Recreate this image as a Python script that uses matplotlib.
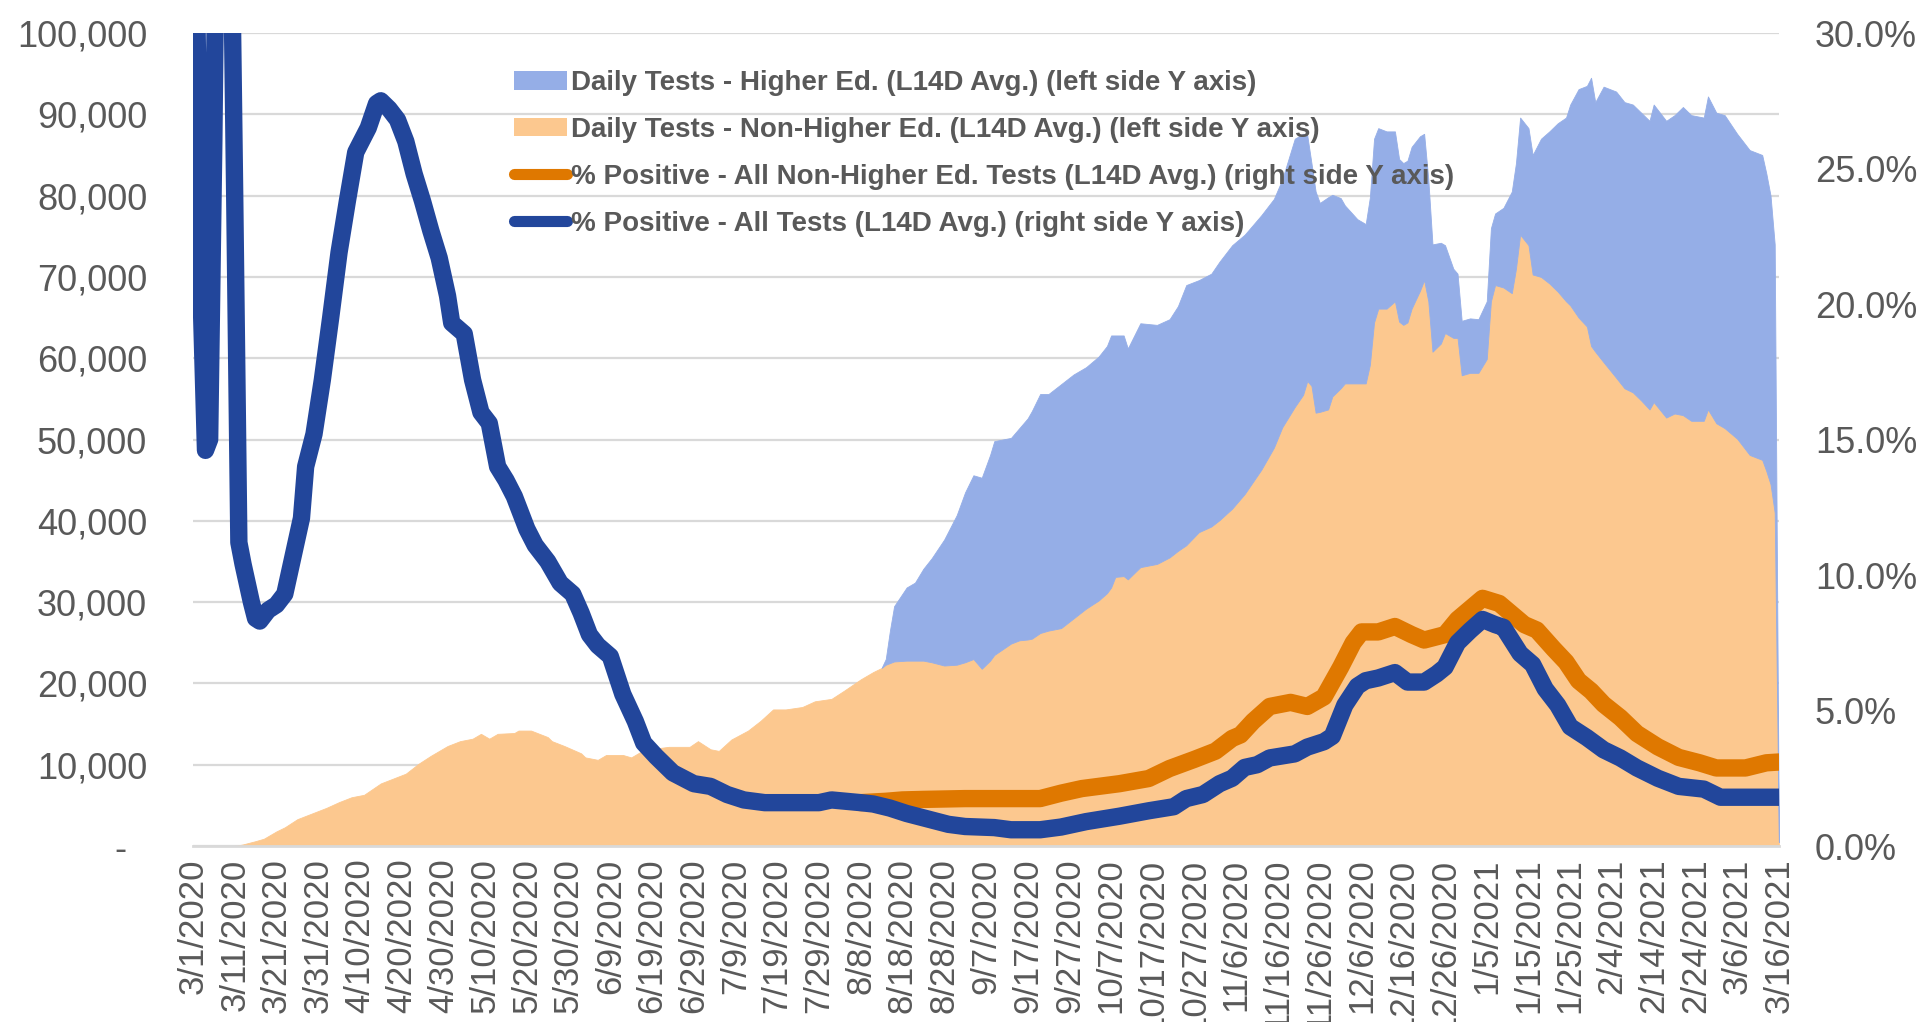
import matplotlib
matplotlib.use("Agg")
import matplotlib.pyplot as plt
import numpy as np
from matplotlib.ticker import FuncFormatter
from matplotlib.lines import Line2D
from matplotlib.patches import Patch
from matplotlib.font_manager import FontProperties

# x = days since 3/1/2020 (category axis ends on 3/16/2021 = day 380)
tick_days = list(range(0, 381, 10))
tick_labels = [
    "3/1/2020", "3/11/2020", "3/21/2020", "3/31/2020", "4/10/2020", "4/20/2020",
    "4/30/2020", "5/10/2020", "5/20/2020", "5/30/2020", "6/9/2020", "6/19/2020",
    "6/29/2020", "7/9/2020", "7/19/2020", "7/29/2020", "8/8/2020", "8/18/2020",
    "8/28/2020", "9/7/2020", "9/17/2020", "9/27/2020", "10/7/2020", "10/17/2020",
    "10/27/2020", "11/6/2020", "11/16/2020", "11/26/2020", "12/6/2020", "12/16/2020",
    "12/26/2020", "1/5/2021", "1/15/2021", "1/25/2021", "2/4/2021", "2/14/2021",
    "2/24/2021", "3/6/2021", "3/16/2021",
]

# daily tests, L14D avg, in thousands
area_days = [
    0, 10, 12, 15, 17, 20, 22, 25, 29, 32, 35, 38, 41, 45, 48, 51, 54, 57, 61, 64,
    67, 69, 71, 73, 77, 78, 81, 83, 85, 86, 89, 93, 94, 97, 99, 103, 105, 108, 114, 119,
    121, 124, 126, 129, 133, 136, 139, 142, 146, 149, 153, 156, 160, 163, 165,
    166, 167, 168, 171, 173, 175, 177, 180, 183, 185, 187, 189, 191, 192, 196,
    198, 200, 201, 203, 205, 208, 211, 214, 217, 219, 220, 221, 223, 224, 227,
    231, 234, 236, 238, 241, 244, 246, 249, 252, 256, 259, 261, 264, 266, 267,
    268, 269, 270, 272, 273, 275, 276, 279, 281, 282, 283, 284, 286, 288, 289,
    290, 291, 292, 294, 295, 296, 297, 299, 300, 302, 303, 304, 306, 308, 310,
    311, 312, 314, 316, 317, 318, 320, 321, 323, 325, 327, 329, 330, 332, 334,
    335, 336, 338, 341, 343, 345, 347, 349, 350, 353, 355, 357, 359, 362, 363,
    365, 367, 370, 373, 376, 377, 378, 379, 380,
]
tests_non_higher_ed = [
    0, 0, 0.2, 0.6, 0.9, 1.8, 2.3, 3.3, 4.1, 4.7, 5.4, 6.0, 6.3, 7.7, 8.3, 8.9, 10.1, 11.1, 12.3, 12.9,
    13.2, 13.8, 13.2, 13.8, 13.9, 14.2, 14.2, 13.8, 13.4, 12.9, 12.3, 11.4, 10.9, 10.6, 11.2, 11.2, 10.9, 11.8, 12.2, 12.2,
    12.9, 11.9, 11.7, 13.1, 14.2, 15.4, 16.8, 16.8, 17.1, 17.8, 18.1, 19.1, 20.5, 21.4, 21.9,
    22.3, 22.5, 22.7, 22.8, 22.8, 22.8, 22.6, 22.2, 22.3, 22.6, 23.0, 21.8, 22.8, 23.5, 24.9,
    25.3, 25.4, 25.5, 26.2, 26.5, 26.8, 28.0, 29.2, 30.2, 31.1, 31.8, 33.1, 33.2, 32.8, 34.3,
    34.7, 35.5, 36.3, 37.0, 38.6, 39.3, 40.1, 41.5, 43.3, 46.3, 49.0, 51.5, 54.0, 55.5, 57.2,
    56.6, 53.3, 53.4, 53.7, 55.3, 56.3, 56.9, 56.9, 56.9, 59.2, 64.4, 66.1, 66.1, 67.0, 64.5,
    64.1, 64.4, 66.1, 68.3, 69.6, 67.0, 60.8, 61.8, 63.1, 62.5, 62.5, 57.9, 58.2, 58.2, 59.9,
    67.0, 69.0, 68.7, 68.0, 71.0, 75.2, 73.9, 70.3, 70.0, 69.2, 68.2, 67.0, 66.5, 65.0, 63.9,
    61.5, 60.8, 59.5, 57.6, 56.3, 55.8, 54.8, 53.7, 54.6, 52.7, 53.2, 53.0, 52.3, 52.3, 53.7,
    52.0, 51.4, 50.1, 48.1, 47.5, 46.1, 44.5, 41.0, 0.5,
]
tests_higher_ed = [
    0, 0, 0, 0, 0, 0, 0, 0, 0, 0, 0, 0, 0, 0, 0, 0, 0, 0, 0, 0,
    0, 0, 0, 0, 0, 0, 0, 0, 0, 0, 0, 0, 0, 0, 0, 0, 0, 0, 0, 0,
    0, 0, 0, 0, 0, 0, 0, 0, 0, 0, 0, 0, 0, 0, 0,
    0.7, 4.0, 6.8, 9.0, 9.6, 11.3, 12.8, 15.5, 18.4, 20.9, 22.6, 23.5, 25.3, 26.3, 25.3,
    26.1, 27.2, 28.0, 29.4, 29.1, 30.0, 30.0, 29.7, 30.0, 30.4, 31.0, 29.7, 29.6, 28.4, 30.0,
    29.4, 29.3, 30.1, 32.0, 31.0, 31.1, 31.8, 32.4, 31.9, 31.3, 30.6, 30.5, 33.0, 32.1, 30.2,
    27.4, 27.2, 25.7, 26.1, 24.8, 23.4, 21.9, 20.2, 19.6, 20.6, 22.6, 22.2, 21.8, 20.9, 20.0,
    19.9, 19.9, 19.9, 19.0, 18.0, 15.0, 13.2, 12.4, 10.8, 8.5, 7.9, 6.7, 6.7, 6.6, 7.1,
    9.0, 8.8, 9.8, 12.5, 13.0, 14.4, 14.4, 14.7, 17.0, 18.7, 20.7, 22.6, 24.7, 28.1, 29.6,
    33.0, 30.7, 33.9, 35.2, 35.2, 35.4, 35.4, 35.5, 36.6, 36.5, 36.7, 37.9, 37.6, 37.3, 38.5,
    38.2, 38.5, 37.5, 37.5, 37.5, 36.6, 35.5, 33.0, 0.3,
]

# % positive, all tests (L14D avg)
pos_all_days = [
    0, 1, 2, 3, 4, 5, 6, 7, 8, 9, 10, 11, 12, 14, 15, 16, 18, 20, 22, 24,
    26, 27, 29, 31, 33, 35, 37, 39, 41, 42, 44, 45, 47, 49, 51, 53, 55, 57, 59, 61,
    62, 65, 67, 69, 71, 73, 75, 77, 80, 82, 85, 88, 91, 93, 95, 97, 100, 103, 106, 108,
    111, 115, 120, 124, 128, 132, 137, 150, 153, 160, 163, 167, 171, 176, 181, 185, 192, 196, 203, 208,
    214, 222, 229, 235, 238, 242, 246, 249, 252, 255, 258, 264, 267, 271, 273, 276, 279, 281, 284, 288,
    291, 295, 298, 300, 303, 306, 309, 312, 314, 318, 321, 324, 327, 330, 334, 338, 342, 346, 351, 356,
    362, 366, 380,
]
pos_all = [
    45, 30, 20, 14.6, 15.0, 26, 40, 48, 45, 36, 24, 11.2, 10.4, 9.0, 8.4, 8.3, 8.7, 8.9, 9.3, 10.7,
    12.1, 14.0, 15.2, 17.2, 19.5, 21.9, 23.8, 25.6, 26.2, 26.5, 27.4, 27.5, 27.2, 26.8, 26.0, 24.8, 23.8, 22.7, 21.7, 20.3,
    19.3, 18.9, 17.2, 16.0, 15.6, 14.0, 13.5, 12.9, 11.7, 11.1, 10.5, 9.7, 9.3, 8.6, 7.8, 7.4, 7.0, 5.6, 4.6, 3.8,
    3.3, 2.7, 2.3, 2.2, 1.9, 1.7, 1.6, 1.6, 1.7, 1.6, 1.55, 1.4, 1.2, 1.0, 0.8, 0.72, 0.68, 0.6, 0.6, 0.7,
    0.9, 1.1, 1.3, 1.45, 1.75, 1.9, 2.3, 2.5, 2.9, 3.0, 3.25, 3.4, 3.65, 3.85, 4.05, 5.2, 5.9, 6.1, 6.2, 6.4,
    6.05, 6.05, 6.35, 6.6, 7.5, 7.95, 8.36, 8.17, 8.07, 7.1, 6.7, 5.8, 5.2, 4.4, 4.0, 3.55, 3.25, 2.88, 2.5, 2.2,
    2.1, 1.8, 1.8,
]

# % positive, non-higher-ed tests (L14D avg); hidden under the blue line before mid-August
pos_non_he_days = [
    160, 166, 170, 175, 185, 203, 208, 213, 217, 222, 229, 234, 240, 245, 249, 251, 254, 258, 263, 267,
    271, 275, 278, 280, 284, 288, 292, 295, 300, 303, 306, 309, 313, 316, 319, 322, 326, 329, 332, 335,
    338, 342, 346, 351, 356, 361, 365, 372, 377, 380,
]
pos_non_he = [
    1.6, 1.65, 1.7, 1.72, 1.75, 1.75, 1.95, 2.12, 2.2, 2.3, 2.49, 2.86, 3.2, 3.5, 3.97, 4.1, 4.6, 5.15, 5.3, 5.15,
    5.5, 6.6, 7.5, 7.9, 7.9, 8.1, 7.8, 7.6, 7.8, 8.36, 8.75, 9.14, 8.95, 8.56, 8.17, 7.97, 7.28, 6.79, 6.1, 5.72,
    5.23, 4.74, 4.15, 3.66, 3.27, 3.07, 2.88, 2.88, 3.07, 3.1,
]

labels = [
    "Daily Tests - Higher Ed. (L14D Avg.) (left side Y axis)",
    "Daily Tests - Non-Higher Ed. (L14D Avg.) (left side Y axis)",
    "% Positive - All Non-Higher Ed. Tests (L14D Avg.) (right side Y axis)",
    "% Positive - All Tests (L14D Avg.) (right side Y axis)",
]

c_he = "#95AEE7"
c_nonhe = "#FCC88F"
c_line_orange = "#DF7800"
c_line_blue = "#22469B"
c_text = "#595959"
c_grid = "#D9D9D9"

plt.rcParams['font.family'] = ['Liberation Sans', 'DejaVu Sans']

fig = plt.figure(figsize=(19.2, 10.22), dpi=100)
ax = fig.add_axes([0.1005, 0.1722, 0.826, 0.7955])

x = np.array(area_days)
non_he = np.array(tests_non_higher_ed) * 1000
he = np.array(tests_higher_ed) * 1000
ax.fill_between(x, 0, non_he, facecolor=c_nonhe, edgecolor=c_nonhe, lw=0.6, zorder=2)
ax.fill_between(x, non_he, non_he + he, where=(he > 0) | (np.roll(he, -1) > 0),
                facecolor=c_he, edgecolor=c_he, lw=0.6, zorder=2)

ax.set_xlim(0, 380)
ax.set_ylim(0, 100000)
ax.set_yticks(range(0, 100001, 10000))
ax.yaxis.set_major_formatter(FuncFormatter(lambda v, p: "-  " if v == 0 else f"{v:,.0f}"))
ax.set_xticks(tick_days)
ax.set_xticklabels(tick_labels, rotation=90)
ax.grid(axis="y", color=c_grid, lw=1.6)
ax.set_axisbelow(True)
for s in ax.spines.values():
    s.set_visible(False)
ax.spines["bottom"].set_visible(True)
ax.spines["bottom"].set_color(c_grid)
ax.spines["bottom"].set_linewidth(2)
ax.spines["bottom"].set_zorder(3)
ax.tick_params(axis="y", length=0, labelsize=26, labelcolor=c_text, pad=33)
ax.tick_params(axis="x", length=0, labelsize=25, labelcolor=c_text, pad=9)

ax2 = ax.twinx()
ax2.set_ylim(0, 30)
ax2.plot(pos_non_he_days, pos_non_he, color=c_line_orange, lw=12.5,
         solid_capstyle="round", solid_joinstyle="round")
ax2.plot(pos_all_days, pos_all, color=c_line_blue, lw=12.5,
         solid_capstyle="round", solid_joinstyle="round")
ax2.set_yticks(range(0, 31, 5))
ax2.yaxis.set_major_formatter(FuncFormatter(lambda v, p: f"{v:.1f}%"))
for s in ax2.spines.values():
    s.set_visible(False)
ax2.tick_params(axis="y", length=0, labelsize=26, labelcolor=c_text, pad=26)

handles = [
    Patch(facecolor=c_he, edgecolor="none"),
    Patch(facecolor=c_nonhe, edgecolor="none"),
    Line2D([], [], color=c_line_orange, lw=8, solid_capstyle="round"),
    Line2D([], [], color=c_line_blue, lw=8, solid_capstyle="round"),
]
leg_font = FontProperties(family=["Liberation Sans", "DejaVu Sans"], weight="bold", size=20)
leg = ax2.legend(handles, labels, loc="upper left", bbox_to_anchor=(514 / 1920, 1 - 70 / 1022),
                 bbox_transform=fig.transFigure, frameon=False, prop=leg_font,
                 handlelength=1.9, handleheight=0.65, handletextpad=0.15,
                 labelspacing=0.75, borderpad=0, borderaxespad=0)
for t in leg.get_texts():
    t.set_color(c_text)

fig.savefig("out.png", dpi=100)
